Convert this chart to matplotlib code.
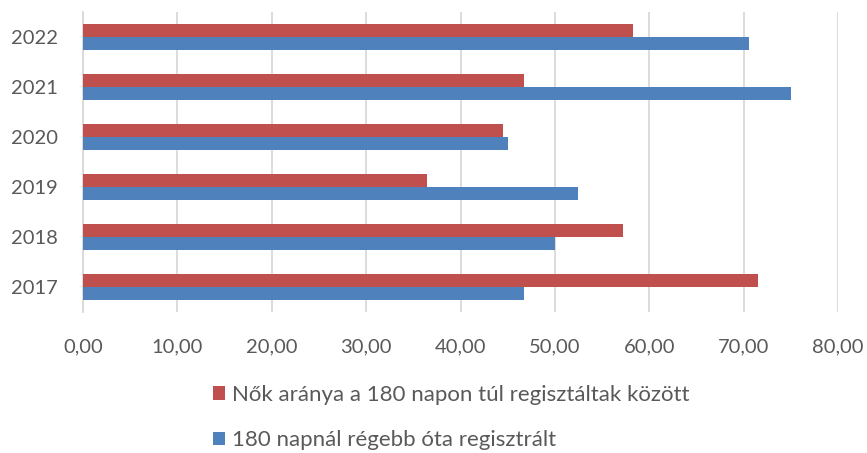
import matplotlib
matplotlib.use("Agg")
import matplotlib.pyplot as plt
import numpy as np

years = ["2017", "2018", "2019", "2020", "2021", "2022"]
noak = [71.5, 57.2, 36.4, 44.5, 46.7, 58.3]
regi = [46.7, 50.0, 52.4, 45.0, 75.0, 70.6]
xticks = [0, 10, 20, 30, 40, 50, 60, 70, 80]
xticklabels = ["0,00", "10,00", "20,00", "30,00", "40,00", "50,00", "60,00", "70,00", "80,00"]
label_red = "Nők aránya a 180 napon túl regisztáltak között"
label_blue = "180 napnál régebb óta regisztrált"

plt.rcParams['font.family'] = ['Lato', 'DejaVu Sans']
txt = '#595959'

fig = plt.figure(figsize=(8.67, 4.53), dpi=100)
ax = fig.add_axes([83/867, 1-312/453, (838-83)/867, 300/453])

y = np.arange(len(years))
h = 0.26
b1 = ax.barh(y + h/2, noak, height=h, color='#C0504D', label=label_red, zorder=3)
b2 = ax.barh(y - h/2, regi, height=h, color='#4F81BD', label=label_blue, zorder=3)

ax.set_xlim(0, 80)
ax.set_ylim(-0.5, len(years) - 0.5)
ax.set_xticks(xticks)
ax.set_xticklabels(xticklabels)
ax.set_yticks(y)
ax.set_yticklabels(years)
ax.tick_params(axis='both', length=0, labelsize=14.5, colors=txt)
ax.tick_params(axis='x', pad=19)
ax.tick_params(axis='y', pad=18)
ax.grid(axis='x', color='#D9D9D9', linewidth=1.3, zorder=0)
for s in ['top', 'right', 'bottom']:
    ax.spines[s].set_visible(False)
ax.spines['left'].set_color('#D9D9D9')
ax.spines['left'].set_linewidth(1.3)

leg = fig.legend(handles=[b1, b2], loc='center left', bbox_to_anchor=(213/867, 1-417.5/453),
                 frameon=False, fontsize=16, labelspacing=1.13, handlelength=0.55,
                 handleheight=0.55, handletextpad=0.3, borderpad=0, borderaxespad=0,
                 labelcolor=txt)

fig.savefig('out.png', dpi=100)
